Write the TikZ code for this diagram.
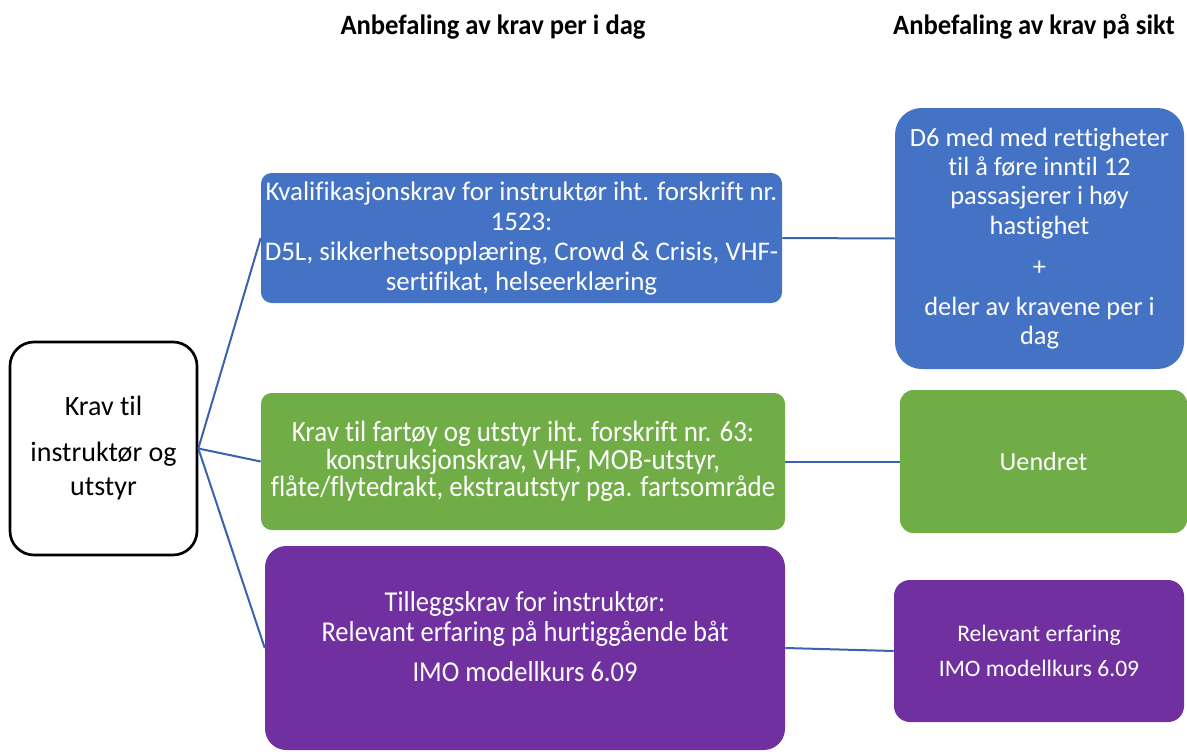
\documentclass[tikz,border=0pt]{standalone}
\usepackage{fontspec}
\setmainfont{Carlito}[Ligatures=NoCommon]
\definecolor{boxblue}{HTML}{4472C4}
\definecolor{boxgreen}{HTML}{70AD47}
\definecolor{boxpurple}{HTML}{7030A0}
\definecolor{linkblue}{HTML}{3A62AE}
\newcommand{\narrow}[1]{\scalebox{0.92}[1]{#1}}
\newcommand{\headnarrow}[1]{\scalebox{0.95}[1]{#1}}
\begin{document}
\begin{tikzpicture}[x=0.75pt,y=-0.75pt,
  card/.style={rounded corners=#1, text=white, align=center, inner sep=0pt},
  link/.style={draw=linkblue, line width=1.5pt},
  heading/.style={font=\bfseries\fontsize{21}{24}\selectfont, anchor=center}]
\useasboundingbox (0,0) rectangle (1187,753);

% column headings
\node[heading] (h1) at (493,27) {\headnarrow{Anbefaling av krav per i dag}};
\node[heading] (h2) at (1034,27) {\headnarrow{Anbefaling av krav på sikt}};

% root
\node[draw=black, line width=2pt, rounded corners=18pt, fill=white, align=center,
      minimum width=187*0.75pt, minimum height=213*0.75pt, inner sep=0pt,
      font=\fontsize{21}{26}\selectfont] (root) at (103.5,448.5)
  {Krav til\\[8pt] instruktør og\\ utstyr};

% current requirements
\node[card=8pt, fill=boxblue, minimum width=521*0.75pt, minimum height=130*0.75pt,
      font=\fontsize{20.2}{22.5}\selectfont] (q1) at (521.5,238)
  {Kvalifikasjonskrav for instruktør iht. forskrift nr.\\ 1523:\\
   D5L, sikkerhetsopplæring, Crowd \& Crisis, VHF-\\ sertifikat, helseerklæring};

\node[card=8pt, fill=boxgreen, minimum width=524*0.75pt, minimum height=137*0.75pt,
      font=\fontsize{22}{20.5}\selectfont] (q2) at (523,461.5)
  {\narrow{Krav til fartøy og utstyr iht. forskrift nr. 63:}\\
   \narrow{konstruksjonskrav, VHF, MOB-utstyr,}\\
   \narrow{flåte/flytedrakt, ekstrautstyr pga. fartsområde}};

\node[card=16pt, fill=boxpurple, minimum width=520*0.75pt, minimum height=204*0.75pt]
  (q3) at (525,648) {};
\node[text=white, align=center, inner sep=0pt,
      font=\fontsize{21.6}{22.5}\selectfont] (q3text) at (525,637)
  {\narrow{Tilleggskrav for instruktør:}\\
   \narrow{Relevant erfaring på hurtiggående båt}\\[7.5pt]
   \narrow{IMO modellkurs 6.09}};

% future requirements
\node[card=20pt, fill=boxblue, minimum width=289*0.75pt, minimum height=261*0.75pt,
      font=\fontsize{19.8}{22}\selectfont] (f1) at (1039.5,238.5)
  {D6 med med rettigheter\\ til å føre inntil 12\\ passasjerer i høy\\ hastighet\\[9pt]
   +\\[8pt] deler av kravene per i\\ dag};

\node[card=10pt, fill=boxgreen, minimum width=287*0.75pt, minimum height=143*0.75pt,
      font=\fontsize{19.6}{22}\selectfont] (f2) at (1043.5,461.5) {Uendret};

\node[card=12pt, fill=boxpurple, minimum width=290*0.75pt, minimum height=142*0.75pt,
      font=\fontsize{17.7}{26.5}\selectfont] (f3) at (1039,651)
  {Relevant erfaring\\ IMO modellkurs 6.09};

% connectors
\coordinate (hub) at (root.east);
\draw[link] (hub) -- (q1.west);
\draw[link] (hub) -- (q2.west);
\draw[link] (hub) -- (q3.west);
\draw[link] (q1.east) -- (f1.west);
\draw[link] (q2.east) -- (f2.west);
\draw[link] (q3.east) -- (f3.west);
\end{tikzpicture}
\end{document}
